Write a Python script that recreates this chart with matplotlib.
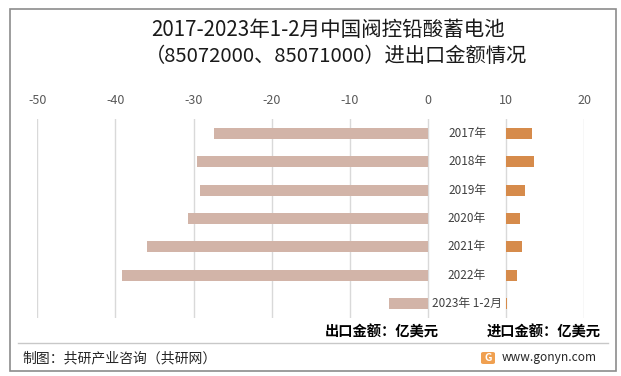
import matplotlib
matplotlib.use("Agg")
import matplotlib.pyplot as plt
from matplotlib.patches import Rectangle, FancyBboxPatch
from matplotlib.lines import Line2D

plt.rcParams['font.family'] = ['Noto Sans CJK SC', 'DejaVu Sans']

categories = ["2017年", "2018年", "2019年", "2020年", "2021年", "2022年", "2023年 1-2月"]
export_vals = [27.4, 29.6, 29.2, 30.7, 35.9, 39.1, 5.0]   # 出口金额 (亿美元)
import_vals = [3.3, 3.55, 2.4, 1.8, 2.05, 1.4, 0.15]      # 进口金额 (亿美元)
xticks = [-50, -40, -30, -20, -10, 0, 10, 20]
import_offset = 10

fig = plt.figure(figsize=(6.21, 3.76), dpi=100)
W, H = 621, 376

# outer border
fig.patches.append(Rectangle((10 / W, 1 - 371 / H), 606 / W, 362 / H, transform=fig.transFigure,
                             fill=False, edgecolor="#8c8c8c", linewidth=1.2))

ax = fig.add_axes([37.3 / W, 1 - 318 / H, (584.3 - 37.3) / W, (318 - 119) / H])
y = list(range(len(categories)))
ax.barh(y, [-v for v in export_vals], height=0.39, color="#D2B4A8", zorder=3)
ax.barh(y, import_vals, left=import_offset, height=0.39, color="#D68B4B", zorder=3)
for yi, c in zip(y, categories):
    ax.text(5, yi, c, ha="center", va="center", fontsize=8.5, color="#404040", zorder=4)

ax.set_xlim(-50, 20)
ax.set_ylim(len(categories) - 0.5, -0.5)
ax.set_xticks(xticks)
ax.set_xticklabels([str(t) for t in xticks])
ax.set_yticks([])
ax.xaxis.tick_top()
ax.tick_params(axis="x", length=0, pad=9, labelsize=9, labelcolor="#595959")
ax.grid(axis="x", color="#D9D9D9", linewidth=1, zorder=0)
for s in ax.spines.values():
    s.set_visible(False)

# title
fig.text(328 / W, 1 - 30 / H, "2017-2023年1-2月中国阀控铅酸蓄电池", ha="center", va="center",
         fontsize=14.8, color="#1a1a1a")
fig.text(336 / W, 1 - 56 / H, "（85072000、85071000）进出口金额情况", ha="center", va="center",
         fontsize=14.6, color="#1a1a1a")

# unit labels
fig.text(439 / W, 1 - 332 / H, "出口金额：亿美元", ha="right", va="center", fontsize=10.3,
         fontweight="bold", color="#000000")
fig.text(601 / W, 1 - 332 / H, "进口金额：亿美元", ha="right", va="center", fontsize=10.3,
         fontweight="bold", color="#000000")

# separator line
fig.add_artist(Line2D([18 / W, 608 / W], [1 - 343 / H, 1 - 343 / H], transform=fig.transFigure,
                      color="#c8c8c8", linewidth=1))

# footer
fig.text(22 / W, 1 - 358 / H, "制图：共研产业咨询（共研网）", ha="left", va="center", fontsize=10,
         color="#262626")
fig.patches.append(FancyBboxPatch((481 / W, 1 - 364 / H), 14 / W, 12 / H, transform=fig.transFigure,
                                  boxstyle="round,pad=0,rounding_size=0.004", facecolor="#F0A050",
                                  edgecolor="none"))
fig.text(488 / W, 1 - 358 / H, "G", ha="center", va="center", fontsize=7.5, fontweight="bold",
         color="white")
fig.text(597 / W, 1 - 358 / H, "www.gonyn.com", ha="right", va="center", fontsize=8.6,
         color="#262626")

fig.savefig("out.png", dpi=100)
